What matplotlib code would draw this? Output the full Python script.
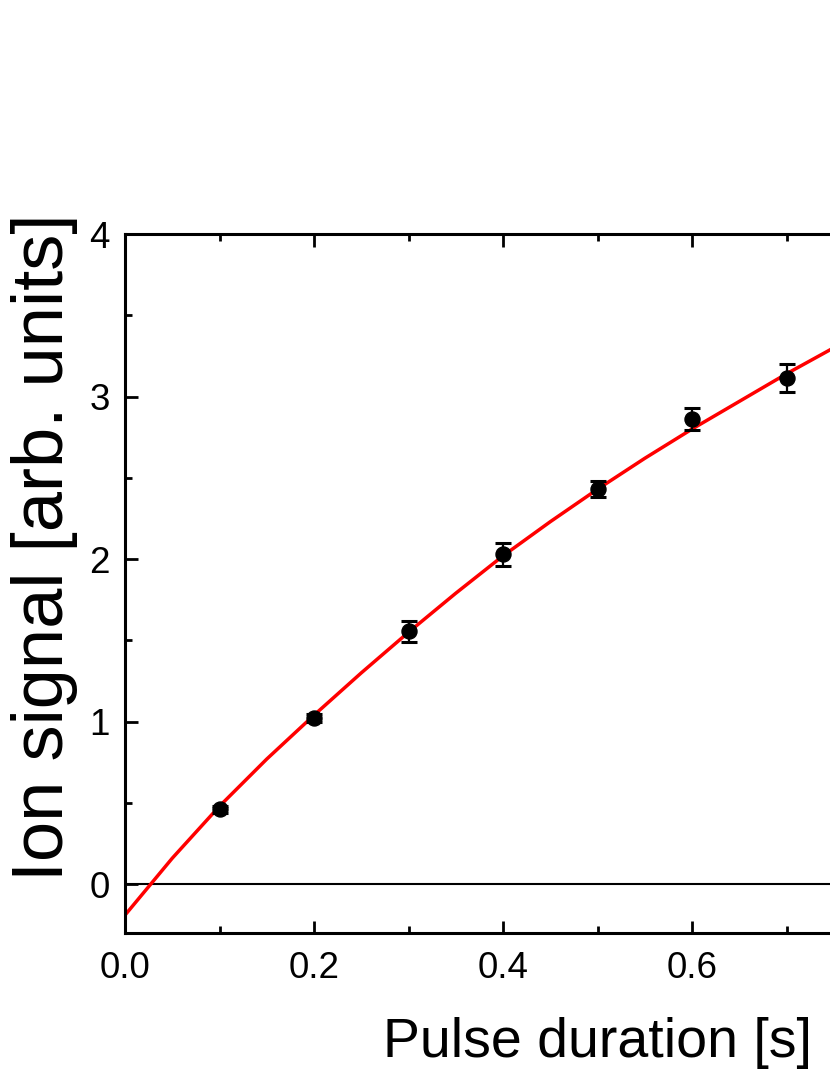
import matplotlib
matplotlib.use("Agg")
import matplotlib.pyplot as plt
from matplotlib.ticker import MultipleLocator

plt.rcParams['font.family'] = ['Liberation Sans', 'DejaVu Sans']

# Data
pulse_duration = [0.1, 0.2, 0.3, 0.4, 0.5, 0.6, 0.7]
ion_signal = [0.46, 1.025, 1.555, 2.03, 2.43, 2.86, 3.115]
ion_error = [0.02, 0.025, 0.065, 0.07, 0.05, 0.068, 0.085]

fit_x = [0.0, 0.05, 0.1, 0.15, 0.2, 0.25, 0.3, 0.35, 0.4, 0.45, 0.5, 0.55, 0.6, 0.65, 0.7, 0.75, 0.8]
fit_y = [-0.19, 0.16, 0.48, 0.77, 1.04, 1.30, 1.55, 1.79, 2.02, 2.23, 2.43, 2.62, 2.80, 2.97, 3.14, 3.30, 3.45]

x_ticks = [0.0, 0.2, 0.4, 0.6]
x_ticklabels = ['0.0', '0.2', '0.4', '0.6']
y_ticks = [0, 1, 2, 3, 4]
y_ticklabels = ['0', '1', '2', '3', '4']

W, H = 830, 1075
fig = plt.figure(figsize=(W / 100, H / 100), dpi=100)
left, right_x1, bottom, top = 125, 125 + 945, 933, 234
ax = fig.add_axes([left / W, (H - bottom) / H, (right_x1 - left) / W, (bottom - top) / H])

ax.axhline(0, color='black', lw=1.5, zorder=1)
ax.plot(fit_x, fit_y, color='#ff0000', lw=2.5, zorder=2)
ax.errorbar(pulse_duration, ion_signal, yerr=ion_error, fmt='o', color='black',
            markersize=10.8, elinewidth=1.6, capsize=6, capthick=2.2, zorder=3)

ax.set_xlim(0, 1.0)
ax.set_ylim(-0.3, 4)
ax.set_xticks(x_ticks)
ax.set_xticklabels(x_ticklabels)
ax.set_yticks(y_ticks)
ax.set_yticklabels(y_ticklabels)
ax.xaxis.set_minor_locator(MultipleLocator(0.1))
ax.yaxis.set_minor_locator(MultipleLocator(0.5))

for s in ax.spines.values():
    s.set_linewidth(2.2)

ax.tick_params(which='both', direction='in', top=True, right=True, width=2.0)
ax.tick_params(which='major', length=9, labelsize=26.5)
ax.tick_params(axis='x', which='major', pad=13)
ax.tick_params(axis='y', which='major', pad=11)
ax.tick_params(which='minor', length=5)

ax.set_xlabel('Pulse duration [s]', fontsize=40)
ax.set_ylabel('Ion signal [arb. units]', fontsize=52)
ax.xaxis.set_label_coords(0.4995, -0.157)
ax.yaxis.set_label_coords(-0.0847, 0.552)
ax.xaxis.label.set_va('center')
ax.yaxis.label.set_va('center')

fig.savefig('out.png', dpi=100)
